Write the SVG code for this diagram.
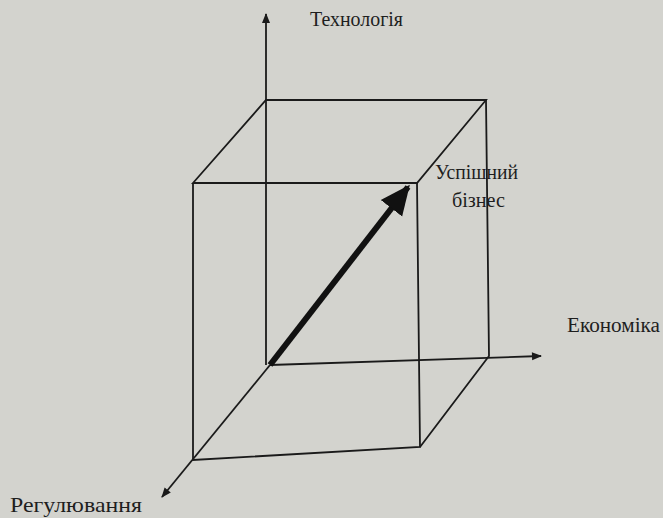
<svg xmlns="http://www.w3.org/2000/svg" width="663" height="518" viewBox="0 0 663 518">
<defs>
<marker id="ah" viewBox="0 0 10 10" refX="9" refY="5" markerWidth="12" markerHeight="10" markerUnits="userSpaceOnUse" orient="auto"><path d="M0,1 L10,5 L0,9 Z" fill="#1a1a1a"/></marker>
<marker id="big" viewBox="0 0 10 10" refX="9" refY="5" markerWidth="5" markerHeight="5" orient="auto"><path d="M0,0.5 L10,5 L0,9.5 Z" fill="#111"/></marker>
</defs>
<style>
.l{stroke:#1a1a1a;stroke-width:1.8;fill:none}
.t{font-family:"Liberation Serif","Times New Roman",serif;font-size:20px;fill:#1e1e1e}
</style>
<rect width="663" height="518" fill="#d3d3ce"/>
<g id="cube">
<path class="l" d="M266,100 L486,100 L417,183 L193,183 Z"/>
<path class="l" d="M193,183 L193,460 L420,447 L417,183"/>
<path class="l" d="M486,100 L489,356 L420,447"/>
</g>
<g id="connectors">
<line class="l" x1="266" y1="365" x2="266" y2="14" marker-end="url(#ah)"/>
<line class="l" x1="270" y1="365" x2="541" y2="356" marker-end="url(#ah)"/>
<line class="l" x1="270" y1="365" x2="162" y2="497" marker-end="url(#ah)"/>
<line x1="270" y1="365" x2="408" y2="187" stroke="#111" stroke-width="6" marker-end="url(#big)"/>
</g>
<g id="label-tech"><text class="t" x="310" y="26" textLength="93" lengthAdjust="spacingAndGlyphs">Технологія</text></g>
<g id="label-success"><text class="t" x="435" y="179" textLength="83" lengthAdjust="spacingAndGlyphs">Успішний</text><text class="t" x="452" y="207" textLength="53" lengthAdjust="spacingAndGlyphs">бізнес</text></g>
<g id="label-econ"><text class="t" x="567" y="332" textLength="93" lengthAdjust="spacingAndGlyphs">Економіка</text></g>
<g id="label-reg"><text class="t" x="10" y="512" style="font-size:22px" textLength="132" lengthAdjust="spacingAndGlyphs">Регулювання</text></g>
</svg>
